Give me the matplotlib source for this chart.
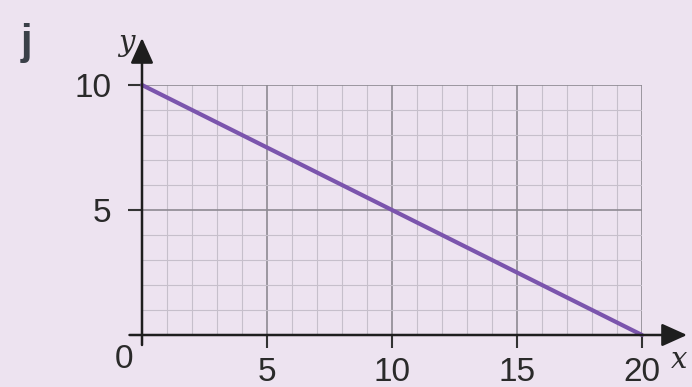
import matplotlib
matplotlib.use("Agg")
import matplotlib.pyplot as plt
from matplotlib.ticker import MultipleLocator

# Data
line_x = [0, 20]
line_y = [10, 0]
x_ticks = [5, 10, 15, 20]
x_tick_labels = ["5", "10", "15", "20"]
y_ticks = [5, 10]
y_tick_labels = ["5", "10"]
panel_label = "j"

W, H = 692, 387
fig = plt.figure(figsize=(W / 100, H / 100), dpi=100)
bg = "#EDE3F0"
fig.patch.set_facecolor(bg)

left_px, right_px, top_px, bot_px = 142, 642, 85, 335
ax = fig.add_axes([left_px / W, (H - bot_px) / H, (right_px - left_px) / W, (bot_px - top_px) / H])
ax.set_facecolor(bg)
ax.set_xlim(0, 20)
ax.set_ylim(0, 10)

for s in ax.spines.values():
    s.set_visible(False)

ax.xaxis.set_minor_locator(MultipleLocator(1))
ax.yaxis.set_minor_locator(MultipleLocator(1))
ax.set_xticks([0] + x_ticks)
ax.set_yticks([0] + y_ticks)
ax.grid(which="minor", color="#C6BFCB", linewidth=0.8, zorder=0)
ax.grid(which="major", color="#8E8A92", linewidth=1.2, zorder=0)
ax.set_axisbelow(True)

fs = 24
fam = ["Liberation Sans", "DejaVu Sans"]
tc = "#2A2A2A"
ax.set_xticklabels([""] + x_tick_labels, fontsize=fs, family=fam, color=tc)
ax.set_yticklabels([""] + y_tick_labels, fontsize=fs, family=fam, color=tc)
ax.tick_params(axis="x", which="major", length=9, width=1.5, color="#333333", pad=7, direction="out")
ax.tick_params(axis="y", which="major", length=10, width=1.5, color="#333333", pad=12, direction="out")
ax.tick_params(which="minor", length=0)
ax.xaxis.get_major_ticks()[0].tick1line.set_visible(False)
ax.yaxis.get_major_ticks()[0].tick1line.set_visible(False)

# axis arrows
astyle = "-|>,head_length=1.55,head_width=0.7"
ax.annotate("", xy=(21.8, 0), xytext=(-0.5, 0), annotation_clip=False,
            arrowprops=dict(arrowstyle=astyle, color="#1E1E1E", lw=1.8,
                            shrinkA=0, shrinkB=0), zorder=5)
ax.annotate("", xy=(0, 11.88), xytext=(0, -0.4), annotation_clip=False,
            arrowprops=dict(arrowstyle=astyle, color="#1E1E1E", lw=1.8,
                            shrinkA=0, shrinkB=0), zorder=5)

# the line
ax.plot(line_x, line_y, color="#7B55AD", linewidth=3.0, solid_capstyle="round", zorder=4, clip_on=False)

# origin label and axis names
ax.text(-0.72, -0.35, "0", fontsize=fs, family=fam, color=tc, ha="center", va="top")
ax.text(21.5, -1.0, "x", fontsize=21, family="DejaVu Serif", style="italic", color=tc, ha="center", va="center")
ax.text(-0.64, 11.68, "y", fontsize=21, family="DejaVu Serif", style="italic", color=tc, ha="center", va="center")
fig.text(26 / W, 1 - 43 / H, panel_label, fontsize=30, family=fam, weight="bold", color="#3A4048", ha="center", va="center")

fig.savefig("out.png", dpi=100, facecolor=bg)
